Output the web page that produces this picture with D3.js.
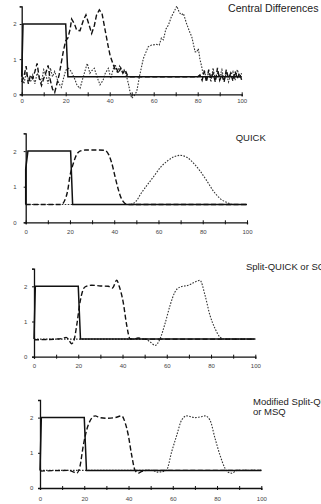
<!DOCTYPE html>
<html>
<head>
<meta charset="utf-8">
<script src="https://cdn.jsdelivr.net/npm/d3@7"></script>
<style>
  body { margin: 0; background: #fff; }
  svg { display: block; }
  .tick text { font-family: "Liberation Sans", Arial, sans-serif; font-size: 6px; fill: #444; }
  .title { font-family: "Liberation Sans", Arial, sans-serif; font-size: 9.5px; fill: #222; }
</style>
</head>
<body>
<div id="chart"></div>
<script>
// x positions / values
const xTicks = [0, 10, 20, 30, 40, 50, 60, 70, 80, 90, 100];
const yTicks = [0, 1, 2, 2.5];

// initial square wave (same in every panel)
const initial = [[0, 0.5], [0.6, 2], [20, 2], [21, 0.5], [100, 0.5]];
const initialQ = [[0, 0.5], [0, 1.5], [1, 2], [20.3, 2], [21.2, 0.5], [100, 0.5]];

// Central Differences
const cdDashed = [[0,0.35],[1,0.5],[2,0.8],[3,0.3],[4,0.55],[5,0.45],[6,0.65],[7,0.88],[8,0.45],[9,0.25],
  [10,0.45],[11,0.62],[12,0.82],[13,0.4],[14,0.15],[15,0.05],[16,0.3],[17,0.55],[18,0.9],[19,1.25],
  [20,1.52],[21,1.6],[22,1.85],[22.7,2.14],[24,2.0],[25,1.82],[26.5,1.81],[28,2.1],[29.2,2.26],[30.5,2.0],
  [31.8,1.73],[33,1.95],[34,2.25],[35.3,2.4],[36.5,2.3],[38,1.8],[39.2,1.4],[40.2,1.1],[41.6,0.85],[42.5,0.7],
  [43,0.75],[44,0.6],[45,0.75],[46,0.6],[47,0.7],[48,0.55],[49,0.5],[80,0.5],[81,0.55],[82,0.4],
  [83,0.65],[84,0.35],[85,0.7],[86,0.45],[87,0.6],[88,0.35],[89,0.75],[90,0.4],[91,0.55],[92,0.35],
  [93,0.7],[94,0.45],[95,0.6],[96,0.38],[97,0.65],[98,0.45],[99,0.6],[100,0.4]];
const cdDotted = [[0,0.45],[1,0.3],[2,0.6],[3,0.45],[4,0.35],[5,0.55],[6,0.3],[7,0.6],[8,0.5],[9,0.35],
  [10,0.7],[11,0.55],[12,0.3],[13,0.75],[14,0.5],[15,0.65],[16,0.45],[17,0.3],[18,0.2],[19,0.45],
  [20,0.68],[21.2,0.74],[22.5,0.65],[24,0.45],[25.2,0.25],[26.5,0.17],[28,0.5],[29.8,0.88],[31,0.6],[32,0.68],
  [33,0.74],[34.5,0.45],[35.6,0.27],[37,0.4],[38,0.6],[39.4,0.74],[40.5,0.45],[41.5,0.7],[42.5,0.85],[43.5,0.6],
  [44.5,0.8],[45.5,0.65],[46.5,0.7],[47.5,0.55],[48.5,0.3],[49.3,0.05],[50,-0.11],[51,-0.05],[52.3,0.08],[53.5,0.5],
  [55.3,1.02],[57.5,1.35],[59,1.4],[61.3,1.42],[62.5,1.4],[63.5,1.6],[64.4,1.55],[65.5,1.85],[66.7,1.97],[68,2.2],
  [69.5,2.38],[70.5,2.51],[71.5,2.35],[72,2.3],[72.7,2.26],[73.5,2.3],[75,2.0],[76.5,1.75],[77.3,1.64],[78.8,1.21],
  [79.5,1.2],[80.3,1.3],[81,1.0],[81.8,0.79],[82.5,0.55],[83,0.7],[84,0.4],[85,0.65],[86,0.35],[87,0.75],
  [88,0.4],[89,0.6],[90,0.5],[91,0.7],[92,0.4],[93,0.6],[94,0.35],[95,0.55],[96,0.65],[97,0.4],
  [98,0.7],[99,0.5],[100,0.6]];

// QUICK
const qDashed = [[0,0.5],[16,0.5],[17.5,0.6],[19,0.9],[20,1.3],[21.5,1.65],[23,1.9],[24.5,2.0],[27,2.03],
  [32,2.03],[35.8,2.02],[37.5,1.9],[38.9,1.66],[40.5,1.25],[41.9,0.91],[43,0.7],[44.1,0.58],[46,0.5],[100,0.5]];
const qDotted = [[0,0.5],[47,0.5],[50,0.6],[52,0.8],[54.7,1.03],[58,1.3],[61,1.55],[64,1.72],[67,1.84],
  [69.7,1.88],[73,1.82],[76,1.65],[78.8,1.44],[82,1.15],[84.8,0.88],[88,0.66],[90.8,0.56],[94,0.5],[100,0.5]];

// Split-QUICK (SQ)
const sqDashed = [[0,0.48],[10,0.5],[13,0.52],[14.5,0.55],[16,0.45],[17,0.37],[18,0.45],[19.3,0.89],[20.8,1.55],
  [23,1.98],[26,2.03],[30,2.01],[33.6,2.0],[35.4,1.95],[37.4,2.17],[38.5,2.0],[40.3,1.55],[41.9,0.89],[43.4,0.51],
  [45,0.5],[47,0.53],[50,0.5],[100,0.5]];
const sqDotted = [[0,0.5],[50,0.5],[52.5,0.42],[54.7,0.32],[56.9,0.5],[59.2,0.94],[61.5,1.46],[63.7,1.84],[66,1.98],
  [69.7,2.03],[72,2.1],[75,2.17],[77.3,1.74],[79.5,1.18],[81.8,0.8],[84,0.56],[86,0.5],[100,0.5]];

// Modified Split-QUICK (MSQ)
const msqDashed = [[0,0.48],[13,0.5],[15,0.46],[16.6,0.42],[18,0.6],[19.6,1.22],[21.8,1.79],[24.9,2.05],[27,2.0],
  [30.1,1.98],[34,2.0],[36.9,2.05],[38.5,1.85],[39.9,1.5],[41.4,0.94],[42.9,0.51],[44.4,0.42],[46,0.47],[48,0.5],[100,0.5]];
const msqDotted = [[0,0.5],[51,0.5],[53,0.45],[55,0.46],[57.2,0.51],[59.5,1.03],[61.8,1.5],[64,1.93],[66.3,2.05],
  [70,2.0],[72.5,2.02],[74.6,2.05],[76.8,1.93],[79.1,1.41],[81.3,0.94],[83.6,0.56],[85,0.45],[86.6,0.42],[89,0.5],[100,0.5]];

const W = 321, H = 504;
const svg = d3.select("#chart").append("svg").attr("width", W).attr("height", H);

const panels = [
  { title: ["Central Differences"], fs: 10.6, tx: 228, ty: 11.8, x0: 21.7, x1: 241.7, y0: 94.3, y1: 6.4, lab: 6.4, ylab: 5,
    solid: initial, dashed: cdDashed, dotted: cdDotted, curve: d3.curveLinear },
  { title: ["QUICK"], fs: 9.5, tx: 235.7, ty: 141, x0: 25.7, x1: 247, y0: 222.3, y1: 133.3, lab: 9.7, ylab: 9,
    solid: initialQ, dashed: qDashed, dotted: qDotted, curve: d3.curveMonotoneX },
  { title: ["Split-QUICK or SQ"], fs: 9.5, tx: 246, ty: 269.5, x0: 34, x1: 255.3, y0: 356.7, y1: 268.7, lab: 9.3, ylab: 6.7,
    solid: initial, dashed: sqDashed, dotted: sqDotted, curve: d3.curveMonotoneX },
  { title: ["Modified Split-QUICK", "or MSQ"], fs: 9.5, tx: 253, ty: 404.7, x0: 40, x1: 261.3, y0: 488, y1: 400, lab: 10.7, ylab: 6.7,
    solid: initial, dashed: msqDashed, dotted: msqDotted, curve: d3.curveMonotoneX }
];

panels.forEach(p => {
  const x = d3.scaleLinear().domain([0, 100]).range([p.x0, p.x1]);
  const y = d3.scaleLinear().domain([0, 2.5]).range([p.y0, p.y1]);
  const g = svg.append("g");

  const line = d3.line().x(d => x(d[0])).y(d => y(d[1])).curve(p.curve);

  g.append("path").datum(p.dotted).attr("d", line)
    .attr("fill", "none").attr("stroke", "#333").attr("stroke-width", 1.1)
    .attr("stroke-dasharray", "1.6,1.4");
  g.append("path").datum(p.dashed).attr("d", line)
    .attr("fill", "none").attr("stroke", "#111").attr("stroke-width", 1.4)
    .attr("stroke-dasharray", "5,2.5");
  g.append("path").datum(p.solid).attr("d", d3.line().x(d => x(d[0])).y(d => y(d[1])))
    .attr("fill", "none").attr("stroke", "#111").attr("stroke-width", 1.5);

  const ax = g.append("g").attr("transform", `translate(0,${p.y0})`)
    .call(d3.axisBottom(x).tickValues(xTicks).tickSize(2)
      .tickFormat(d => d % 20 === 0 ? d : ""));
  ax.select(".domain").attr("stroke", "#111").attr("stroke-width", 1.3);
  ax.selectAll(".tick line").attr("y1", -2).attr("stroke", "#111");
  ax.selectAll(".tick text").attr("dy", "0.35em").attr("y", p.lab);

  const ay = g.append("g").attr("transform", `translate(${p.x0},0)`)
    .call(d3.axisLeft(y).tickValues(yTicks).tickSize(2).tickPadding(p.ylab - 2)
      .tickFormat(d => Number.isInteger(d) ? d : ""));
  ay.select(".domain").attr("stroke", "#111").attr("stroke-width", 1.3);
  ay.selectAll(".tick line").attr("stroke", "#111");

  p.title.forEach((t, i) => {
    svg.append("text").attr("class", "title").style("font-size", p.fs + "px")
      .attr("x", p.tx).attr("y", p.ty + i * 10).text(t);
  });
});
</script>
</body>
</html>
